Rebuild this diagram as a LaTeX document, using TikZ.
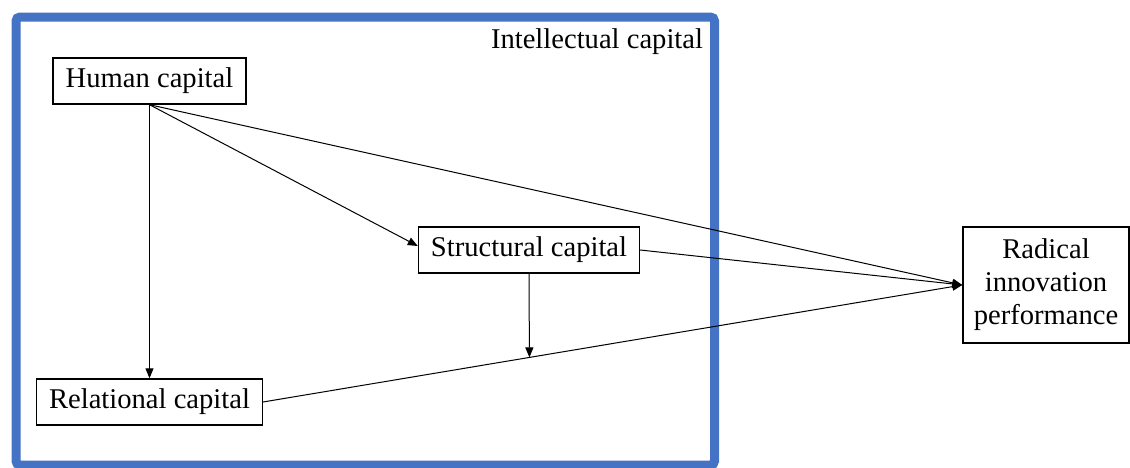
\documentclass[tikz,border=0pt]{standalone}
\usepackage{fontspec}
\setmainfont{Liberation Serif}
\usetikzlibrary{arrows.meta}
\definecolor{frameblue}{HTML}{4472C4}
\begin{document}
\begin{tikzpicture}[x=0.5pt,y=-0.5pt,
  capbox/.style={draw,line width=0.7pt,inner sep=0pt,font=\fontsize{14.3pt}{16.5pt}\selectfont,align=center},
  link/.style={line width=0.5pt},
  arr/.style={link,-{Triangle[length=5pt,width=4pt]}}]
\useasboundingbox (0,0) rectangle (1130,467);
% intellectual capital frame
\draw[frameblue,line width=4.5pt,rounded corners=2pt] (16,17) rectangle (714.5,465);
\node[font=\fontsize{14.3pt}{16.5pt}\selectfont] (ic) at (597,42) {Intellectual capital};
% constructs
\node[capbox,minimum width=96.5pt,minimum height=23pt] (hc) at (149.5,81) {Human capital};
\node[capbox,minimum width=110.5pt,minimum height=23pt] (sc) at (529,250) {Structural capital};
\node[capbox,minimum width=112.8pt,minimum height=23pt] (rc) at (149.5,402) {Relational capital};
\node[capbox,minimum width=83pt,minimum height=58pt] (rip) at (1046,285) {Radical\\innovation\\performance};
% paths
\draw[arr] (hc.south) -- (rc.north);
\draw[arr] (hc.south) -- ([yshift=2pt]sc.west);
\draw[arr] (hc.south) -- (rip.west);
\draw[arr] (sc.east) -- (rip.west);
\draw[arr] (rc.east) -- coordinate[pos=0.381] (mod) (rip.west);
\draw[arr] (sc.south) -- (mod);
\end{tikzpicture}
\end{document}
